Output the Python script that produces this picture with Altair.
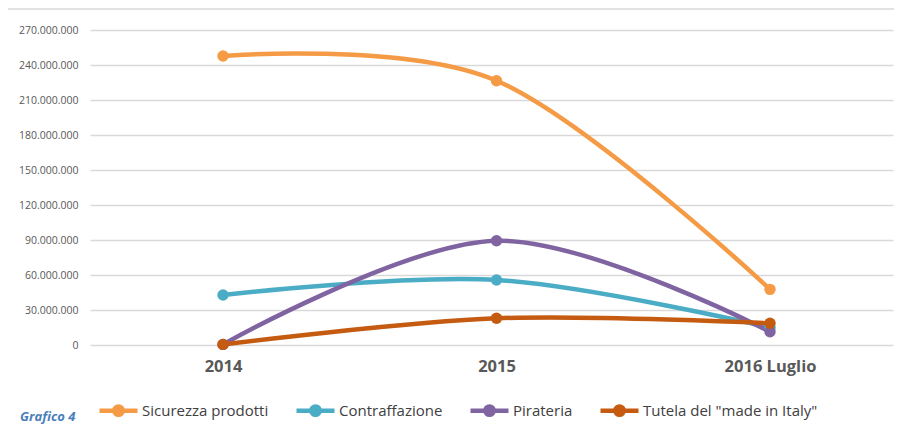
import json
import altair as alt
import pandas as pd

periods = ["2014", "2015", "2016 Luglio"]
series_names = ["Sicurezza prodotti", "Contraffazione", "Pirateria", 'Tutela del "made in Italy"']
sicurezza = [247_700_000, 226_500_000, 47_700_000]
contraffazione = [42_900_000, 55_700_000, 15_000_000]
pirateria = [500_000, 89_400_000, 11_400_000]
tutela = [500_000, 22_900_000, 18_600_000]
colors = ["#F59A45", "#4BACC6", "#8064A2", "#C55A11"]
y_ticks = [0, 30_000_000, 60_000_000, 90_000_000, 120_000_000, 150_000_000,
           180_000_000, 210_000_000, 240_000_000, 270_000_000]

rows = []
for name, vals in zip(series_names, [sicurezza, contraffazione, pirateria, tutela]):
    for i, (p, v) in enumerate(zip(periods, vals)):
        rows.append({"periodo": p, "idx": i, "serie": name, "valore": v,
                     "ordine": series_names.index(name)})
df = pd.DataFrame(rows)

W, H = 803, 315
FONT = "Open Sans"

legend_path = "M-1,0L-0.22,0M0.22,0L1,0M0.22,0A0.22,0.22,0,1,1,-0.22,0A0.22,0.22,0,1,1,0.22,0Z"

x_enc = alt.X("idx:Q",
              scale=alt.Scale(domain=[-0.4863, 2.4497], nice=False, zero=False),
              axis=alt.Axis(title=None, values=list(range(len(periods))),
                            labelExpr=json.dumps(periods) + "[datum.value]",
                            labelAngle=0, labelFont=FONT, labelFontSize=16.5,
                            labelFontWeight="bold", labelColor="#595959", ticks=False,
                            domain=False, labelPadding=13, grid=False))
y_enc = alt.Y("valore:Q",
              scale=alt.Scale(domain=[0, 270_000_000], nice=False),
              axis=alt.Axis(title=None, values=y_ticks, format=",d", labelFont=FONT,
                            labelFontSize=10.5, labelColor="#595959", ticks=False,
                            domain=False, labelPadding=12, gridColor="#D9D9D9",
                            gridWidth=1.5))
color_enc = alt.Color("serie:N", sort=series_names,
                      scale=alt.Scale(domain=series_names, range=colors),
                      legend=alt.Legend(
                          title=None, orient="none", legendX=7, legendY=359,
                          direction="horizontal", columns=4, columnPadding=18,
                          labelFont=FONT, labelFontSize=15, labelColor="#404040",
                          labelLimit=400, labelOffset=2, symbolSize=1444,
                          symbolType=legend_path,
                          symbolStrokeWidth=4.5, symbolOpacity=1))

base = alt.Chart(df).encode(x=x_enc, y=y_enc, color=color_enc, order=alt.Order("ordine:Q"))
lines = base.mark_line(interpolate="cardinal", strokeWidth=4.5, strokeCap="round")
points = base.mark_point(filled=True, size=130, opacity=1)

border = alt.Chart(pd.DataFrame({"a": [0]})).mark_rect(
    fill=None, stroke="#D9D9D9", strokeWidth=1.5).encode(
    x=alt.value(-83), x2=alt.value(830), y=alt.value(-21), y2=alt.value(400))

caption = alt.Chart(pd.DataFrame({"t": ["Grafico 4"]})).mark_text(
    align="left", baseline="middle", font=FONT, fontSize=13, fontStyle="italic",
    fontWeight="bold", color="#4A7EBB").encode(
    text="t:N", x=alt.value(-70), y=alt.value(387))

chart = alt.layer(border, lines, points, caption).properties(
    width=W, height=H, padding={"left": 82, "top": 22, "right": 1, "bottom": 80},
    autosize=alt.AutoSizeParams(type="none"),
).configure(
    locale={"number": {"decimal": ",", "thousands": ".", "grouping": [3],
                       "currency": ["€", ""]}}
).configure_view(stroke=None)

chart.save("out.html", embed_options={"renderer": "svg", "actions": False})
